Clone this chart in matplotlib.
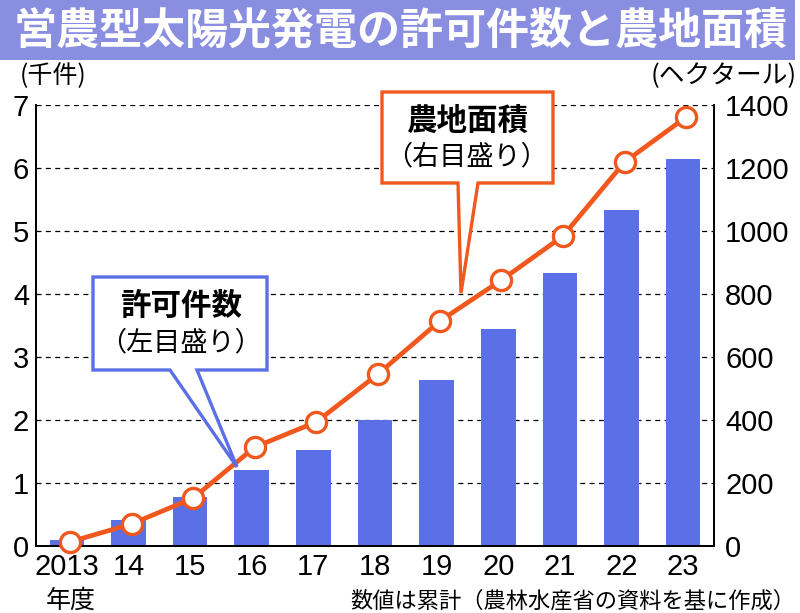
import matplotlib.pyplot as plt
from matplotlib.patches import Polygon, Rectangle
import numpy as np

# 年度ごとの累計（許可件数は千件、農地面積はヘクタール）
years = ['2013', '14', '15', '16', '17', '18', '19', '20', '21', '22', '23']
permits = [0.10, 0.41, 0.78, 1.21, 1.52, 2.00, 2.63, 3.44, 4.33, 5.33, 6.14]
area = [13, 70, 152, 314, 394, 546, 714, 844, 984, 1219, 1362]
left_ticks = [0, 1, 2, 3, 4, 5, 6, 7]
right_ticks = [0, 200, 400, 600, 800, 1000, 1200, 1400]

JP = ['Noto Sans CJK JP', 'DejaVu Sans']
NUM = ['Liberation Sans', 'DejaVu Sans']
BLUE = '#5b6fe6'
ORANGE = '#f0581e'
W, H = 800, 613

fig = plt.figure(figsize=(8, 6.13), dpi=100)


def px(x, y):
    # ピクセル座標（左上原点）-> figure座標
    return (x / W, 1 - y / H)


# タイトル帯
fig.patches.append(Rectangle(px(0, 60), 795 / W, 60 / H, transform=fig.transFigure,
                             facecolor='#8a8ee0', edgecolor='none', zorder=0))
fig.text(*px(401, 31), '営農型太陽光発電の許可件数と農地面積', color='white',
         fontsize=31, fontweight='bold', family=JP, ha='center', va='center')

ax = fig.add_axes([36 / W, 1 - 546 / H, (714 - 36) / W, (546 - 105) / H])
ax2 = ax.twinx()

x = np.arange(len(years))
ax.bar(x, permits, width=0.56, color=BLUE, zorder=2)
ax.set_xlim(-0.5, len(years) - 0.5)
ax.set_ylim(0, 7)
ax.set_yticks(left_ticks)
ax.set_yticklabels([str(t) for t in left_ticks], family=NUM, fontsize=21)
ax.set_xticks(x)
ax.set_xticklabels(years, family=NUM, fontsize=21)
ax.tick_params(length=0, pad=5)
ax.grid(axis='y', color='black', linestyle=(0, (4, 3.5)), linewidth=0.9, zorder=1)
ax.set_axisbelow(True)

ax2.plot(x + 0.05, area, color=ORANGE, linewidth=3.4, marker='o', markersize=14.5,
         markerfacecolor='white', markeredgecolor=ORANGE, markeredgewidth=2.4,
         zorder=3, clip_on=False)
ax2.set_ylim(0, 1400)
ax2.set_yticks(right_ticks)
ax2.set_yticklabels([str(t) for t in right_ticks], family=NUM, fontsize=21)
ax2.tick_params(length=0, pad=8)

for a in (ax, ax2):
    a.spines['top'].set_visible(False)
    for s in ('left', 'right', 'bottom'):
        a.spines[s].set_linewidth(1.3)

# 単位
fig.text(*px(20, 76), '(千件)', family=JP, fontsize=18, ha='left', va='center')
fig.text(*px(797, 76), '(ヘクタール)', family=JP, fontsize=18.5, ha='right', va='center')
fig.text(*px(71, 601), '年度', family=JP, fontsize=18, ha='center', va='center')
fig.text(*px(350, 601), '数値は累計（農林水産省の資料を基に作成）', family=JP,
         fontsize=16, ha='left', va='center')


def callout(x0, y0, x1, y1, t0, t1, tip, color):
    pts = [(x0, y0), (x1, y0), (x1, y1), (t1, y1), tip, (t0, y1), (x0, y1)]
    fig.patches.append(Polygon([px(*p) for p in pts], closed=True,
                               transform=fig.transFigure, facecolor='white',
                               edgecolor=color, linewidth=2.4, zorder=10))


callout(93, 277, 267, 370, 170, 197, (237, 467), BLUE)
fig.text(*px(181, 306), '許可件数', family=JP, fontsize=22, fontweight='bold',
         ha='center', va='center', zorder=11)
fig.text(*px(181, 343), '（左目盛り）', family=JP, fontsize=19.5,
         ha='center', va='center', zorder=11)

callout(382, 92, 553, 183, 458, 478, (461, 293), ORANGE)
fig.text(*px(467, 121), '農地面積', family=JP, fontsize=22, fontweight='bold',
         ha='center', va='center', zorder=11)
fig.text(*px(467, 157), '（右目盛り）', family=JP, fontsize=19.5,
         ha='center', va='center', zorder=11)

fig.savefig('out.png', dpi=100)
